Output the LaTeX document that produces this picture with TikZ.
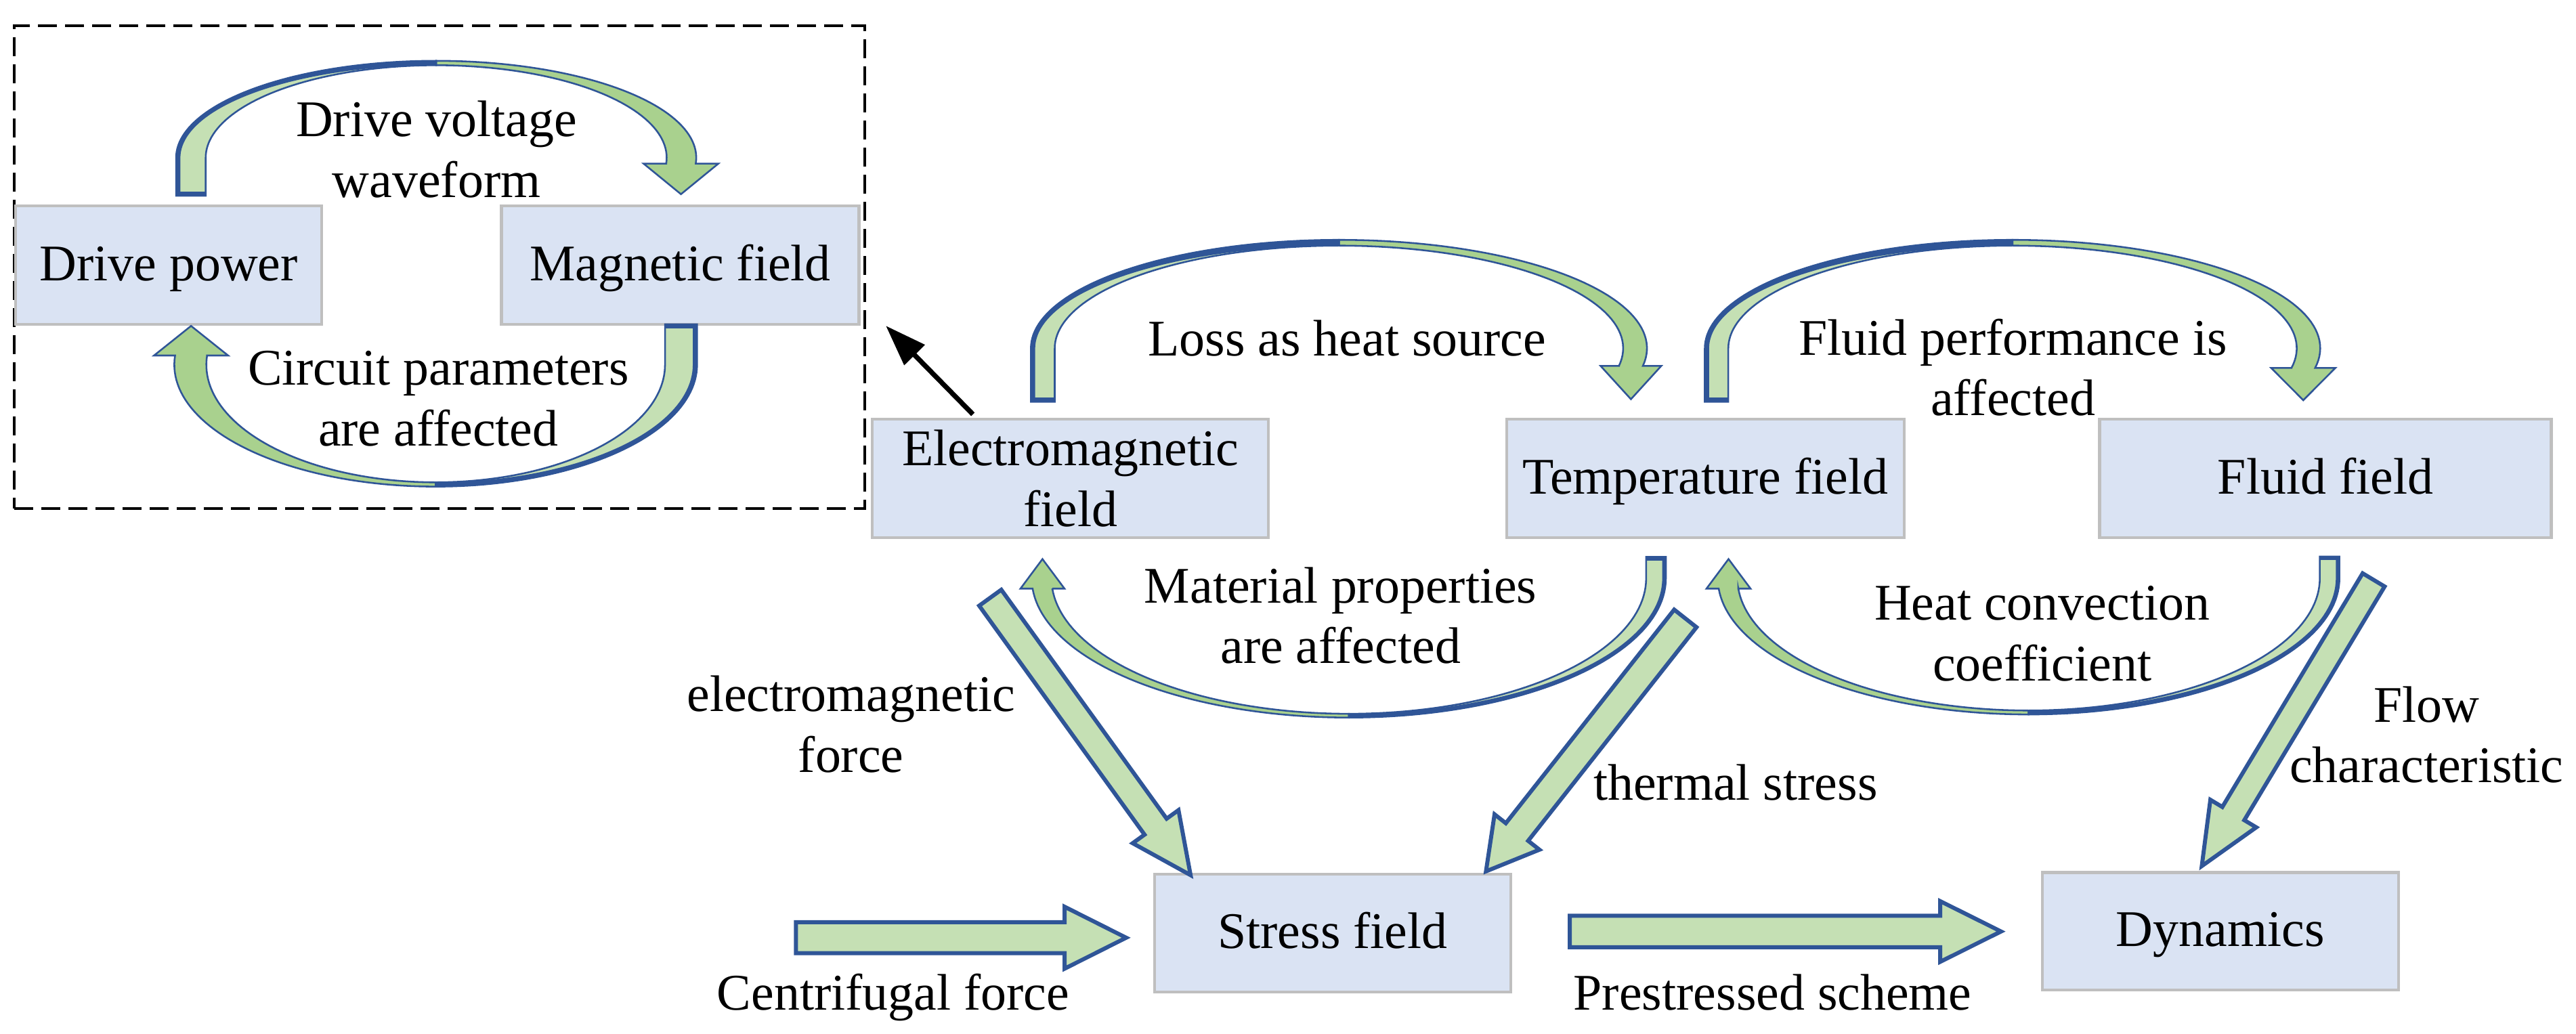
\documentclass[tikz,border=0pt]{standalone}
\usepackage{fontspec}
\setmainfont{Liberation Serif}
\usetikzlibrary{calc,arrows.meta}
\definecolor{boxfill}{HTML}{DAE3F3}
\definecolor{boxline}{HTML}{BFBFBF}
\definecolor{glight}{HTML}{C5E0B4}
\definecolor{gmid}{HTML}{A9D18E}
\definecolor{ablue}{HTML}{2F5597}
\def\rbhl{18}
\def\rbcrw{2.6}
\def\rbcap{2.6}
% curved ribbon arrow: #1 centre, #2 rotation, #3 rxo, #4 ryo, #5 rxi, #6 ryi, #7 foot ext, #8 head base, #9 head half width
\newcommand\ribbon[9]{%
\begin{scope}[shift={#1}, rotate=#2]
\pgfmathsetmacro\rbteo{360+asin((#8)/(#4))}
\pgfmathsetmacro\rbtei{360+asin((#8)/(#6))}
\pgfmathsetmacro\rbXo{(#3)*cos(\rbteo)}
\pgfmathsetmacro\rbXi{(#5)*cos(\rbtei)}
\pgfmathsetmacro\rbhc{(\rbXo+\rbXi)/2}
\pgfmathsetmacro\rbrxc{(#3)-\rbcrw}
\filldraw[fill=gmid, draw=ablue, line width=0.6pt, line join=miter]
  plot[domain=270:\rbteo, samples=50] ({(#3)*cos(\x)},{(#4)*sin(\x)})
  -- (\rbhc+#9,#8) -- (\rbhc,#8+\rbhl) -- (\rbhc-#9,#8) -- (\rbXi,#8)
  -- plot[domain=\rbtei:270, samples=50] ({(#5)*cos(\x)},{(#6)*sin(\x)}) -- cycle;
\filldraw[fill=glight, draw=ablue, line width=0.6pt]
  plot[domain=270:180, samples=50] ({(#3)*cos(\x)},{(#4)*sin(\x)})
  -- (-#3,#7) -- (-#5,#7) -- (-#5,0)
  -- plot[domain=180:270, samples=50] ({(#5)*cos(\x)},{(#6)*sin(\x)}) -- cycle;
\fill[ablue]
  plot[domain=270:180, samples=50] ({(#3)*cos(\x)},{(#4)*sin(\x)})
  -- (-#3,#7) -- (-\rbrxc,#7) -- (-\rbrxc,0)
  -- plot[domain=180:270, samples=50] ({\rbrxc*cos(\x)},{(#6)*sin(\x)}) -- cycle;
\fill[ablue] (-#3,#7) rectangle (-#5,#7-\rbcap);
\end{scope}}
% straight block arrow: #1 tail, #2 tip, #3 half shaft, #4 half head, #5 head length
\newcommand\blockarrow[5]{%
\coordinate (bac) at ($(#2)!#5!(#1)$);
\filldraw[blk] ($(#1)!#3!90:(#2)$) -- ($(bac)!#3!90:(#2)$) -- ($(bac)!#4!90:(#2)$)
  -- (#2) -- ($(bac)!#4!-90:(#2)$) -- ($(bac)!#3!-90:(#2)$) -- ($(#1)!#3!-90:(#2)$) -- cycle;}
\begin{document}
\begin{tikzpicture}[x=0.02cm, y=-0.02cm,
  every node/.style={font=\fontsize{17.8}{21}\selectfont},
  boxbase/.style={rectangle, fill=boxfill, draw=boxline, line width=1pt, inner sep=0pt, outer sep=0pt},
  box/.style={boxbase, text height=13.35pt, text depth=2.67pt},
  lbl/.style={inner sep=0pt, anchor=base},
  blk/.style={fill=glight, draw=ablue, line width=1.4pt, line join=miter},
  grp/.style={draw=black, line width=1pt, dash pattern=on 0.23cm off 0.1cm, inner sep=0pt}]
\useasboundingbox (0,0) rectangle (1568,629.4);

% dashed group frame
\node[grp, minimum width=10.356cm, minimum height=5.88cm] (frame) at (267.4,162.6) {};

% boxes
\node[box, minimum width=3.724cm, minimum height=1.444cm] (dp) at (102.7,161.3) {Drive power};
\node[box, minimum width=4.354cm, minimum height=1.444cm] (mf) at (414.05,161.3) {Magnetic field};
\node[boxbase, align=center, minimum width=4.82cm, minimum height=1.44cm] (emf) at (651.5,291.2) {Electromagnetic\\field};
\node[box, minimum width=4.84cm, minimum height=1.44cm] (tf) at (1038,291.2) {Temperature field};
\node[box, minimum width=5.5cm, minimum height=1.44cm] (ff) at (1415.5,291.2) {Fluid field};
\node[box, minimum width=4.342cm, minimum height=1.44cm] (sf) at (811.2,568) {Stress field};
\node[box, minimum width=4.34cm, minimum height=1.43cm] (dyn) at (1351.5,566.8) {Dynamics};

% curved arrows
\def\rbhl{18.6}\ribbon{(265.5,96)}{0}{158.3}{59}{140.3}{56.3}{23.2}{3.6}{22.75}
\def\rbhl{18}\ribbon{(265.2,222)}{180}{159.1}{74.2}{139.6}{71.6}{24.6}{5.6}{22.55}
\def\rbhl{20.3}\ribbon{(815,212)}{0}{187.5}{66}{173}{62.5}{32.6}{10.7}{18.5}
\def\rbhl{19.6}\ribbon{(1225,212)}{0}{187.3}{66}{173}{62.5}{32.6}{12}{19.5}
\def\rbcrw{2.2}\def\rbcap{2.2}
\def\rbhl{18}\ribbon{(821,352)}{180}{193}{84.8}{181}{82.5}{13}{-6.3}{13.4}
\def\rbhl{18}\ribbon{(1234.8,352)}{180}{189.2}{82.9}{177.25}{80.5}{13.2}{-6.3}{13.4}

% block arrows
\coordinate (emfT) at (602.75,363.85); \coordinate (emfH) at (724.7,532.7);
\blockarrow{emfT}{emfH}{0.166cm}{0.344cm}{0.728cm}
\coordinate (tsT) at (1025.85,376.45); \coordinate (tsH) at (904.5,530.4);
\blockarrow{tsT}{tsH}{0.173cm}{0.348cm}{0.61cm}
\coordinate (flT) at (1444.8,353); \coordinate (flH) at (1340.2,527.2);
\blockarrow{flT}{flH}{0.156cm}{0.326cm}{0.746cm}
\coordinate (cfT) at (484.5,570.8); \coordinate (cfH) at (685.5,570.8);
\blockarrow{cfT}{cfH}{0.189cm}{0.377cm}{0.75cm}
\coordinate (psT) at (955.5,567); \coordinate (psH) at (1218,567);
\blockarrow{psT}{psH}{0.192cm}{0.369cm}{0.74cm}

% black arrow
\coordinate (bkS) at (592.2,252.2); \coordinate (bkE) at (539.2,198.3);
\draw[line width=1.7pt, -{Triangle[length=0.5cm,width=0.34cm]}] (bkS) -- (bkE);

% labels
\node[lbl] (l1) at (265.7,83.2) {\begin{tabular}[t]{@{}c@{}}Drive voltage\\waveform\end{tabular}};
\node[lbl] (l2) at (266.8,234.5) {\begin{tabular}[t]{@{}c@{}}Circuit parameters\\are affected\end{tabular}};
\node[lbl] (l3) at (820,216.4) {Loss as heat source};
\node[lbl] (l4) at (1225.3,216) {\begin{tabular}[t]{@{}c@{}}Fluid performance is\\affected\end{tabular}};
\node[lbl] (l5) at (816,367) {\begin{tabular}[t]{@{}c@{}}Material properties\\are affected\end{tabular}};
\node[lbl] (l6) at (1243,377.5) {\begin{tabular}[t]{@{}c@{}}Heat convection\\coefficient\end{tabular}};
\node[lbl] (l7) at (518,433.1) {\begin{tabular}[t]{@{}c@{}}electromagnetic\\force\end{tabular}};
\node[lbl] (l8) at (1056.4,486.9) {thermal stress};
\node[lbl] (l9) at (1477,439.4) {\begin{tabular}[t]{@{}c@{}}Flow\\characteristic\end{tabular}};
\node[lbl] (l10) at (543.7,614.7) {Centrifugal force};
\node[lbl] (l11) at (1079,614.6) {Prestressed scheme};
\end{tikzpicture}
\end{document}
